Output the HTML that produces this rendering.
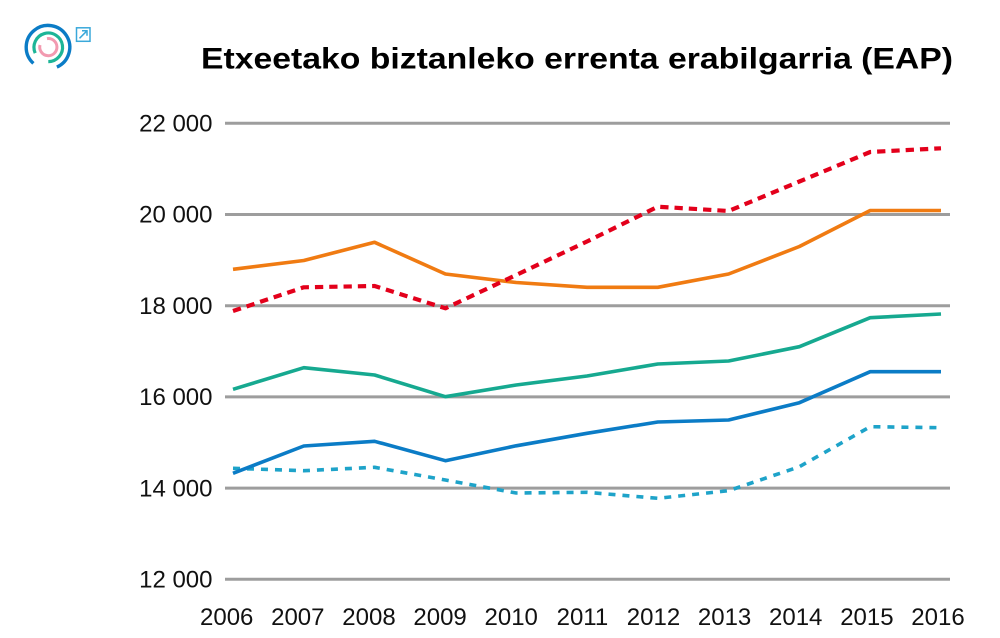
<!DOCTYPE html>
<html>
<head>
<meta charset="utf-8">
<style>
  html, body { margin: 0; padding: 0; background: #ffffff; }
  body { width: 1000px; height: 638px; overflow: hidden; }
  svg { display: block; }
  text { font-family: "Liberation Sans", "DejaVu Sans", sans-serif; }
</style>
</head>
<body>
<svg width="1000" height="638" viewBox="0 0 1000 638" xmlns="http://www.w3.org/2000/svg">
  <rect x="0" y="0" width="1000" height="638" fill="#ffffff"/>

  <!-- Logo -->
  <g fill="none" stroke-linecap="butt">
    <!-- outer blue arc: gap from 67deg to 133deg -->
    <path d="M 56.9 67.1 A 21.8 21.8 0 1 0 33.4 63.4" stroke="#0b7cc6" stroke-width="3.4"/>
    <!-- green arc: gap from 90deg to 156deg -->
    <path d="M 48.3 61.6 A 14.3 14.3 0 1 0 35.2 53.1" stroke="#1db597" stroke-width="3.2"/>
    <!-- pink arc: gap top-left -->
    <path d="M 47.0 38.6 A 8.6 8.6 0 1 1 40.0 45.0" stroke="#f29ab0" stroke-width="3"/>
  </g>
  <g fill="none" stroke="#3aa8da" stroke-width="1.5">
    <rect x="76.5" y="27.8" width="13.5" height="13.5"/>
    <line x1="79.5" y1="38.3" x2="87" y2="30.8"/>
    <polyline points="82,30.8 87,30.8 87,35.8"/>
  </g>

  <!-- Title -->
  <text x="201" y="68.5" font-size="30" font-weight="bold" fill="#000" textLength="752" lengthAdjust="spacingAndGlyphs">Etxeetako biztanleko errenta erabilgarria (EAP)</text>

  <!-- Gridlines -->
  <g stroke="#9d9d9d" stroke-width="3">
    <line x1="225" y1="123.3" x2="950" y2="123.3"/>
    <line x1="225" y1="214.5" x2="950" y2="214.5"/>
    <line x1="225" y1="305.7" x2="950" y2="305.7"/>
    <line x1="225" y1="396.9" x2="950" y2="396.9"/>
    <line x1="225" y1="488.1" x2="950" y2="488.1"/>
    <line x1="225" y1="579.3" x2="950" y2="579.3"/>
  </g>

  <!-- Y tick labels -->
  <g font-size="24" fill="#111" text-anchor="end">
    <text x="212.5" y="131.5">22 000</text>
    <text x="212.5" y="222.7">20 000</text>
    <text x="212.5" y="313.9">18 000</text>
    <text x="212.5" y="405.1">16 000</text>
    <text x="212.5" y="496.3">14 000</text>
    <text x="212.5" y="587.5">12 000</text>
  </g>

  <!-- X labels -->
  <g font-size="24" fill="#111" text-anchor="middle">
    <text x="226.7" y="625">2006</text>
    <text x="297.8" y="625">2007</text>
    <text x="369.0" y="625">2008</text>
    <text x="440.1" y="625">2009</text>
    <text x="511.2" y="625">2010</text>
    <text x="582.4" y="625">2011</text>
    <text x="653.5" y="625">2012</text>
    <text x="724.6" y="625">2013</text>
    <text x="795.7" y="625">2014</text>
    <text x="866.9" y="625">2015</text>
    <text x="938.0" y="625">2016</text>
  </g>

  <!-- Series -->
  <g fill="none" stroke-linejoin="round">
    <!-- light blue dashed -->
    <polyline stroke="#1ea3c9" stroke-width="3.6" stroke-dasharray="7 7"
      points="233,468.3 303.8,470.7 374.6,467.3 445.4,480 516.2,493 587,492.3 657.8,498.3 728.6,490.7 799.4,466.7 870.2,426.7 941,427.7"/>
    <!-- blue -->
    <polyline stroke="#0b7cc6" stroke-width="3.6"
      points="233,473.3 303.8,446 374.6,441.3 445.4,460.7 516.2,445.8 587,433.3 657.8,422 728.6,420 799.4,402.7 870.2,371.7 941,371.7"/>
    <!-- teal -->
    <polyline stroke="#16a990" stroke-width="3.6"
      points="233,389.3 303.8,367.7 374.6,375 445.4,396.7 516.2,385 587,376 657.8,364 728.6,361 799.4,346.7 870.2,317.7 941,314"/>
    <!-- orange -->
    <polyline stroke="#f07b12" stroke-width="3.6"
      points="233,269.3 303.8,260.5 374.6,242.3 445.4,274 516.2,282.5 587,287.3 657.8,287.3 728.6,274 799.4,246.5 870.2,210.5 941,210.5"/>
    <!-- red dashed -->
    <polyline stroke="#e3001b" stroke-width="4.2" stroke-dasharray="8.3 6"
      points="233,311 303.8,287.3 374.6,286 445.4,308.3 516.2,275 587,241.5 657.8,206.7 728.6,211 799.4,181.5 870.2,152 941,148.3"/>
  </g>
</svg>
</body>
</html>
